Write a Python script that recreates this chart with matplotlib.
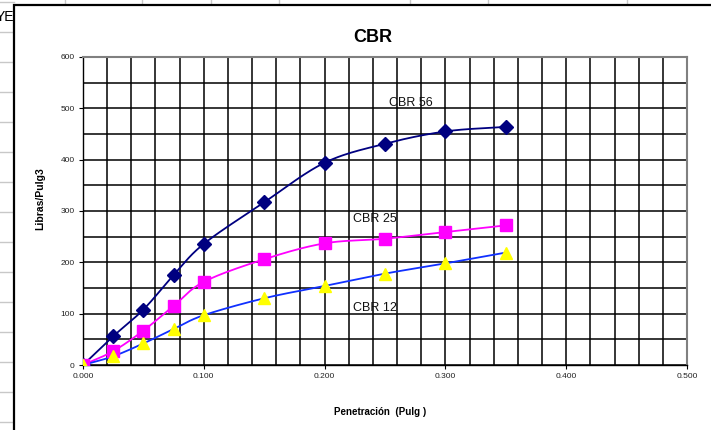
import numpy as np
import matplotlib
matplotlib.use("Agg")
import matplotlib.pyplot as plt
from matplotlib.lines import Line2D
from matplotlib.patches import Rectangle
from matplotlib.ticker import MultipleLocator, FormatStrFormatter

plt.rcParams['font.family'] = ['Liberation Sans', 'DejaVu Sans']

penetracion = [0.0, 0.025, 0.05, 0.075, 0.1, 0.15, 0.2, 0.25, 0.3, 0.35]
cbr56 = [0, 56, 108, 175, 236, 317, 394, 431, 455, 464]
cbr25 = [0, 27, 67, 115, 162, 206, 237, 246, 259, 272]
cbr12 = [0, 17, 42, 70, 97, 130, 154, 178, 198, 219]
series_labels = ["CBR 56", "CBR 25", "CBR 12"]
label_pos = [(0.253, 510), (0.2235, 284), (0.2235, 111)]

W, H = 711, 430
fig = plt.figure(figsize=(W / 100, H / 100), dpi=100)

def fx(px):
    return px / W

def fy(py):
    return 1 - py / H

# spreadsheet background lines
for py in range(2, 430, 30):
    fig.add_artist(Line2D([0, fx(14)], [fy(py), fy(py)], color='#c8c8c8', lw=1.0, zorder=-3))
for px in [65, 142, 211, 279, 410, 488, 627]:
    fig.add_artist(Line2D([fx(px), fx(px)], [1, fy(5)], color='#c8c8c8', lw=1.0, zorder=-3))
fig.text(fx(-4), fy(17), "YE", fontsize=10, va='center', ha='left', zorder=-2)

# chart area
fig.add_artist(Rectangle((fx(14), -0.1), 1.2, fy(5) + 0.1, transform=fig.transFigure,
                         facecolor='white', edgecolor='black', lw=1.6, zorder=-1))

ax = fig.add_axes([fx(83), fy(365), fx(687) - fx(83), fy(57) - fy(365)])
ax.set_xlim(0, 0.5)
ax.set_ylim(0, 600)

ax.xaxis.set_major_locator(MultipleLocator(0.1))
ax.xaxis.set_minor_locator(MultipleLocator(0.02))
ax.yaxis.set_major_locator(MultipleLocator(100))
ax.yaxis.set_minor_locator(MultipleLocator(50))
ax.xaxis.set_major_formatter(FormatStrFormatter('%.3f'))
ax.grid(True, which='both', color='black', lw=1.1)
ax.set_axisbelow(True)
ax.tick_params(which='minor', length=0)
ax.tick_params(which='major', length=3, width=0.8, labelsize=6, colors='black',
               labelcolor='#222222', pad=3)

for side in ['top', 'right']:
    ax.spines[side].set_color('#808080')
    ax.spines[side].set_linewidth(1.5)
for side in ['left', 'bottom']:
    ax.spines[side].set_color('black')
    ax.spines[side].set_linewidth(1.0)


def smooth(x, y, n=24):
    x = np.asarray(x, float)
    y = np.asarray(y, float)
    px = np.concatenate([[2 * x[0] - x[1]], x, [2 * x[-1] - x[-2]]])
    py = np.concatenate([[2 * y[0] - y[1]], y, [2 * y[-1] - y[-2]]])
    xs, ys = [], []
    t = np.linspace(0, 1, n)
    for i in range(1, len(px) - 2):
        p0x, p1x, p2x, p3x = px[i - 1:i + 3]
        p0y, p1y, p2y, p3y = py[i - 1:i + 3]
        for arr, (a0, a1, a2, a3) in ((xs, (p0x, p1x, p2x, p3x)), (ys, (p0y, p1y, p2y, p3y))):
            c1 = a1 + (a2 - a0) / 6
            c2 = a2 - (a3 - a1) / 6
            arr.extend((1 - t) ** 3 * a1 + 3 * (1 - t) ** 2 * t * c1 + 3 * (1 - t) * t ** 2 * c2 + t ** 3 * a2)
    return np.array(xs), np.array(ys)


styles = [
    (cbr56, '#000080', '#000080', 'D', 7),
    (cbr25, '#ff00ff', '#ff00ff', 's', 8),
    (cbr12, '#1030ff', '#ffff00', '^', 9),
]
for vals, lc, mc, mk, ms in styles:
    sx, sy = smooth(penetracion, vals)
    ax.plot(sx, sy, color=lc, lw=1.3, zorder=3)
for vals, lc, mc, mk, ms in styles:
    ax.plot(penetracion, vals, ls='none', marker=mk, ms=ms, color=mc, mec=mc, zorder=4)

for lab, (lx, ly) in zip(series_labels, label_pos):
    ax.text(lx, ly, lab, fontsize=9, ha='left', va='center', color='#111111', zorder=5)

fig.text(fx(373), fy(37), "CBR", fontsize=13, fontweight='bold', ha='center', va='center')
ax.set_xlabel("Penetración  (Pulg )", fontsize=7, fontweight='bold')
ax.set_ylabel("Libras/Pulg3", fontsize=7.5, fontweight='bold')
ax.xaxis.set_label_coords((380 - 83) / 604, (365 - 412) / 308)
ax.yaxis.set_label_coords((40 - 83) / 604, (365 - 199) / 308)
ax.xaxis.label.set_va('center')
ax.yaxis.label.set_va('center')

fig.savefig("out.png", dpi=100)
